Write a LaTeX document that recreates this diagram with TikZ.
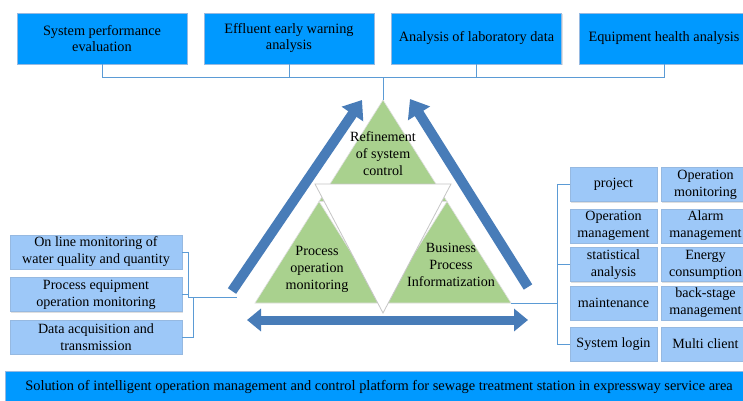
\documentclass[tikz,border=0pt]{standalone}
\usepackage{fontspec}
\setmainfont{Liberation Serif}
\usetikzlibrary{arrows.meta,shadows}
\definecolor{topblue}{RGB}{0,153,255}
\definecolor{lightblue}{RGB}{157,200,248}
\definecolor{boxedge}{RGB}{150,185,225}
\definecolor{leafgreen}{RGB}{169,209,142}
\definecolor{arrowblue}{RGB}{72,124,184}
\definecolor{connblue}{RGB}{91,155,213}
\begin{document}
\begin{tikzpicture}[x=1pt,y=-1pt,
  box/.style={draw=boxedge, line width=0.6pt, align=center, inner sep=1pt,
    font=\fontsize{14.1}{17}\selectfont,
    drop shadow={shadow xshift=1pt,shadow yshift=-1pt,opacity=0.25}},
  topbox/.style={box, fill=topblue, minimum width=170pt, minimum height=51pt,
    font=\fontsize{14.3}{16}\selectfont},
  sidebox/.style={box, fill=lightblue, minimum width=172pt, minimum height=34pt},
  rbox/.style={box, fill=lightblue, minimum width=87pt, minimum height=34pt},
  rboxb/.style={box, fill=lightblue, minimum width=89pt, minimum height=34pt},
  barbox/.style={box, fill=topblue, minimum width=748pt, minimum height=32pt,
    font=\fontsize{14.4}{17}\selectfont},
  conn/.style={draw=connblue, line width=0.9pt},
  greentri/.style={fill=leafgreen, draw=gray!25, line width=0.6pt},
  whitetri/.style={fill=white, draw=gray!45, line width=0.8pt},
  tritext/.style={align=center, inner sep=0pt, font=\fontsize{14.1}{17}\selectfont},
  bigarrow/.style={draw=arrowblue, line width=10pt, -{Triangle[width=25pt,length=17pt]}},
  dblarrow/.style={draw=arrowblue, line width=9pt,
    {Triangle[width=22pt,length=14pt]}-{Triangle[width=22pt,length=14pt]}}
]
\clip (0,0) rectangle (743,400);
\fill[white] (0,0) rectangle (743,400);

% top boxes
\node[topbox] (t1) at (102,38.5) {System performance\\evaluation};
\node[topbox] (t2) at (289,38.5) {Effluent early warning\\analysis};
\node[topbox] (t3) at (476.5,38.5) {Analysis of laboratory data};
\node[topbox] (t4) at (664,38.5) {Equipment health analysis};

% triangle geometry
\coordinate (A) at (383,100);
\coordinate (B) at (255,303);
\coordinate (C) at (511,303);
\coordinate (AB) at (319,201.5);
\coordinate (AC) at (447,201.5);
\coordinate (BC) at (383,303);
\coordinate (W1) at (315,184);
\coordinate (W2) at (451,184);
\coordinate (W3) at (383,313);

\path[greentri] (A) -- (AB) -- (AC) -- cycle;
\path[greentri] (B) -- (AB) -- (BC) -- cycle;
\path[greentri] (C) -- (AC) -- (BC) -- cycle;
\path[whitetri] (W1) -- (W2) -- (W3) -- cycle;

\node[tritext] (ttop) at (383,154) {Refinement\\of system\\control};
\node[tritext] (tleft) at (317,269) {Process\\operation\\monitoring};
\node[tritext] (tright) at (451,265) {Business\\Process\\Informatization};

% top connectors
\coordinate (hub) at (383,77);
\draw[conn] (t1.south) |- (hub);
\draw[conn] (t4.south) |- (hub);
\draw[conn] (t2.south) -- (t2.south |- hub);
\draw[conn] (t3.south) -- (t3.south |- hub);
\draw[conn] (hub) -- (A);

% big arrows
\coordinate (la1) at (232,291);
\coordinate (la2) at (362,100);
\coordinate (ra1) at (528,287);
\coordinate (ra2) at (410,99);
\coordinate (ba1) at (247,320);
\coordinate (ba2) at (528,320);
\draw[bigarrow] (la1) -- (la2);
\draw[bigarrow] (ra1) -- (ra2);
\draw[dblarrow] (ba1) -- (ba2);

% left boxes
\node[sidebox] (l1) at (96,252) {On line monitoring of\\water quality and quantity};
\node[sidebox] (l2) at (96,294.5) {Process equipment\\operation monitoring};
\node[sidebox] (l3) at (96,337) {Data acquisition and\\transmission};
\coordinate (lj) at (188,297);
\coordinate (lj2) at (193,297);
\coordinate (lend) at (237,297);
\draw[conn] (l1.east) -| (lj);
\draw[conn] (l2.east) -- (l2.east -| lj);
\draw[conn] (l3.east) -| (lj2);
\draw[conn] (lj) -- (lend);

% right boxes
\node[rbox] (r1a) at (613.5,184.5) {project};
\node[rboxb] (r1b) at (705.5,184.5) {Operation\\monitoring};
\node[rbox] (r2a) at (613.5,226) {Operation\\management};
\node[rboxb] (r2b) at (705.5,226) {Alarm\\management};
\node[rbox] (r3a) at (613.5,264.5) {statistical\\analysis};
\node[rboxb] (r3b) at (705.5,264.5) {Energy\\consumption};
\node[rbox] (r4a) at (613.5,303) {maintenance};
\node[rboxb] (r4b) at (705.5,303) {back-stage\\management};
\node[rbox] (r5a) at (613.5,344) {System login};
\node[rboxb] (r5b) at (705.5,344) {Multi client};
\coordinate (rj) at (557,303);
\draw[conn] (r1a.west) -| (rj);
\draw[conn] (r5a.west) -| (rj);
\draw[conn] (r3a.west) -- (r3a.west -| rj);
\draw[conn] (C) -- (rj);

% bottom bar
\node[barbox] (bar) at (379,387) {Solution of intelligent operation management and control platform for sewage treatment station in expressway service area};
\end{tikzpicture}
\end{document}
